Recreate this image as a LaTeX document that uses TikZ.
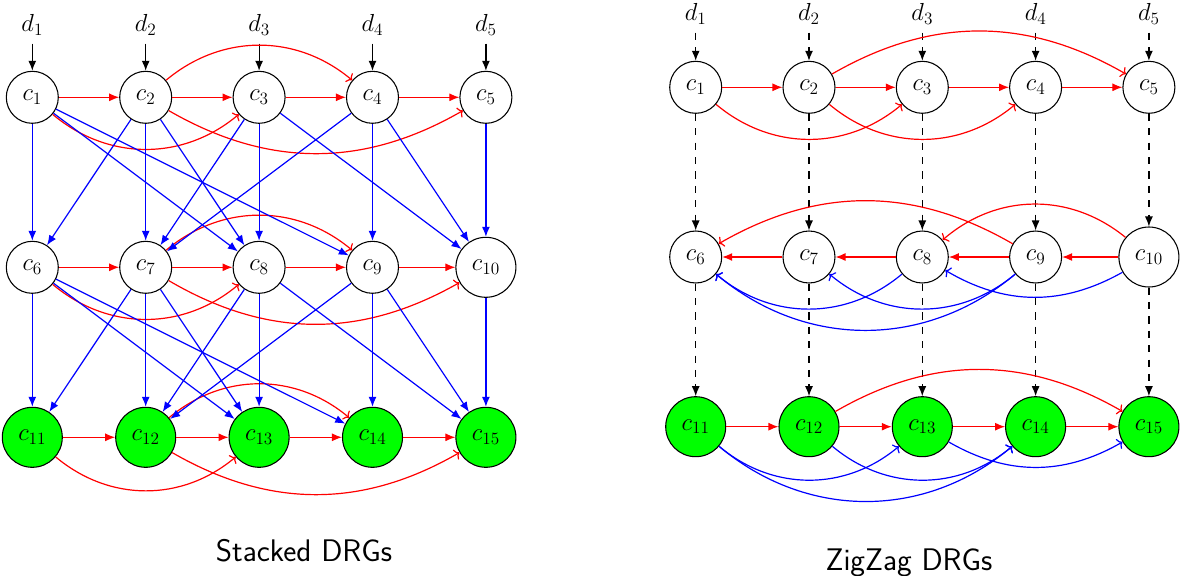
\documentclass[tikz,border=0pt]{standalone}
\usepackage{fix-cm}
\usetikzlibrary{arrows.meta}

\begin{document}
\begin{tikzpicture}[x=0.75pt,y=0.75pt,
  every node/.style={font=\fontsize{18.5}{22}\selectfont},
  vtx/.style={circle, draw=black, line width=0.8pt, fill=white, inner sep=0pt, minimum size=39pt},
  bigvtx/.style={vtx, minimum size=45pt},
  gvtx/.style={vtx, fill=green, minimum size=45pt},
  lbl/.style={anchor=base, inner sep=6pt},
  caption/.style={anchor=base, font=\fontsize{23.4}{28}\selectfont\sffamily},
  edge/.style={line width=0.9pt},
  solidtip/.style={edge, -{Latex[length=7.5pt,width=6pt]}},
  opentip/.style={edge, -{To[length=3.5pt,width=8.5pt]}},
  feed/.style={solidtip, black},
  dfeed/.style={solidtip, black, dash pattern=on 5.4pt off 5.4pt},
  rstraight/.style={solidtip, red},
  rcurve/.style={opentip, red},
  bstraight/.style={solidtip, blue},
  bcurve/.style={opentip, blue}
]
\useasboundingbox (0,0) rectangle (1181,-575);

% ---------------- Stacked DRGs ----------------
\node[lbl] (Ld1) at (32.3,-31.7)  {$d_1$};
\node[lbl] (Ld2) at (145.7,-31.7) {$d_2$};
\node[lbl] (Ld3) at (259.1,-31.7) {$d_3$};
\node[lbl] (Ld4) at (372.5,-31.7) {$d_4$};
\node[lbl] (Ld5) at (485.9,-31.7) {$d_5$};

\node[vtx] (L1) at (32.3,-97.3)  {$c_1$};
\node[vtx] (L2) at (145.7,-97.3) {$c_2$};
\node[vtx] (L3) at (259.1,-97.3) {$c_3$};
\node[vtx] (L4) at (372.5,-97.3) {$c_4$};
\node[vtx] (L5) at (485.9,-97.3) {$c_5$};

\node[vtx] (L6) at (32.3,-267.3)  {$c_6$};
\node[vtx] (L7) at (145.7,-267.3) {$c_7$};
\node[vtx] (L8) at (259.1,-267.3) {$c_8$};
\node[vtx] (L9) at (372.5,-267.3) {$c_9$};
\node[bigvtx] (L10) at (485.9,-267.3) {$c_{10}$};

\node[gvtx] (L11) at (32.3,-437.3)  {$c_{11}$};
\node[gvtx] (L12) at (145.7,-437.3) {$c_{12}$};
\node[gvtx] (L13) at (259.1,-437.3) {$c_{13}$};
\node[gvtx] (L14) at (372.5,-437.3) {$c_{14}$};
\node[gvtx] (L15) at (485.9,-437.3) {$c_{15}$};

\node[caption] (Lcap) at (304,-561.7) {Stacked DRGs};

% data inputs
\foreach \k in {1,...,5} \draw[feed] (Ld\k) -- (L\k);

% chain edges in each layer
\foreach \a/\b in {1/2,2/3,3/4,4/5,6/7,7/8,8/9,9/10,11/12,12/13,13/14,14/15}
  \draw[rstraight] (L\a) -- (L\b);

% long-range edges in each layer
\foreach \s in {0,5,10} {
  \pgfmathtruncatemacro\pa{1+\s}
  \pgfmathtruncatemacro\pb{2+\s}
  \pgfmathtruncatemacro\pc{3+\s}
  \pgfmathtruncatemacro\pd{4+\s}
  \pgfmathtruncatemacro\pe{5+\s}
  \draw[rcurve] (L\pa) to[bend right=40] (L\pc);
  \draw[rcurve] (L\pb) to[bend left=40] (L\pd);
  \draw[rcurve] (L\pb) to[bend right=30] (L\pe);
}

% edges between layers
\foreach \s in {0,5} {
  \foreach \a/\b in {1/6,2/7,3/8,4/9,5/10,2/6,3/7,4/7,1/8,2/8,1/9,3/10,4/10} {
    \pgfmathtruncatemacro\src{\a+\s}
    \pgfmathtruncatemacro\dst{\b+\s}
    \draw[bstraight] (L\src) -- (L\dst);
  }
}

% ---------------- ZigZag DRGs ----------------
\node[lbl] (Rd1) at (695.7,-20.7)  {$d_1$};
\node[lbl] (Rd2) at (809.0,-20.7)  {$d_2$};
\node[lbl] (Rd3) at (922.3,-20.7)  {$d_3$};
\node[lbl] (Rd4) at (1035.6,-20.7) {$d_4$};
\node[lbl] (Rd5) at (1148.9,-20.7) {$d_5$};

\node[vtx] (R1) at (695.7,-87.3)  {$c_1$};
\node[vtx] (R2) at (809.0,-87.3)  {$c_2$};
\node[vtx] (R3) at (922.3,-87.3)  {$c_3$};
\node[vtx] (R4) at (1035.6,-87.3) {$c_4$};
\node[vtx] (R5) at (1148.9,-87.3) {$c_5$};

\node[vtx] (R6) at (695.7,-257)  {$c_6$};
\node[vtx] (R7) at (809.0,-257)  {$c_7$};
\node[vtx] (R8) at (922.3,-257)  {$c_8$};
\node[vtx] (R9) at (1035.6,-257) {$c_9$};
\node[bigvtx] (R10) at (1148.9,-257) {$c_{10}$};

\node[gvtx] (R11) at (695.7,-426.7)  {$c_{11}$};
\node[gvtx] (R12) at (809.0,-426.7)  {$c_{12}$};
\node[gvtx] (R13) at (922.3,-426.7)  {$c_{13}$};
\node[gvtx] (R14) at (1035.6,-426.7) {$c_{14}$};
\node[gvtx] (R15) at (1148.9,-426.7) {$c_{15}$};

\node[caption] (Rcap) at (909,-570.7) {ZigZag DRGs};

% data inputs and layer-to-layer copies
\foreach \k in {1,...,5} \draw[dfeed] (Rd\k) -- (R\k);
\foreach \k in {1,...,10} {
  \pgfmathtruncatemacro\nx{\k+5}
  \draw[dfeed] (R\k) -- (R\nx);
}

% chain edges, direction alternating per layer
\foreach \a/\b in {1/2,2/3,3/4,4/5,10/9,9/8,8/7,7/6,11/12,12/13,13/14,14/15}
  \draw[rstraight] (R\a) -- (R\b);

% layer 1
\draw[rcurve] (R1) to[bend right=40] (R3);
\draw[rcurve] (R2) to[bend right=40] (R4);
\draw[rcurve] (R2) to[bend left=30] (R5);

% layer 2
\draw[rcurve] (R9) to[bend right=30] (R6);
\draw[rcurve] (R10) to[bend right=40] (R8);
\draw[bcurve] (R8) to[bend left=40] (R6);
\draw[bcurve] (R9) to[bend left=40] (R6);
\draw[bcurve] (R9) to[bend left=40] (R7);
\draw[bcurve] (R10) to[bend left=30] (R8);

% layer 3
\draw[rcurve] (R12) to[bend left=30] (R15);
\draw[bcurve] (R11) to[bend right=40] (R13);
\draw[bcurve] (R11) to[bend right=40] (R14);
\draw[bcurve] (R12) to[bend right=40] (R14);
\draw[bcurve] (R13) to[bend right=30] (R15);

\end{tikzpicture}
\end{document}
